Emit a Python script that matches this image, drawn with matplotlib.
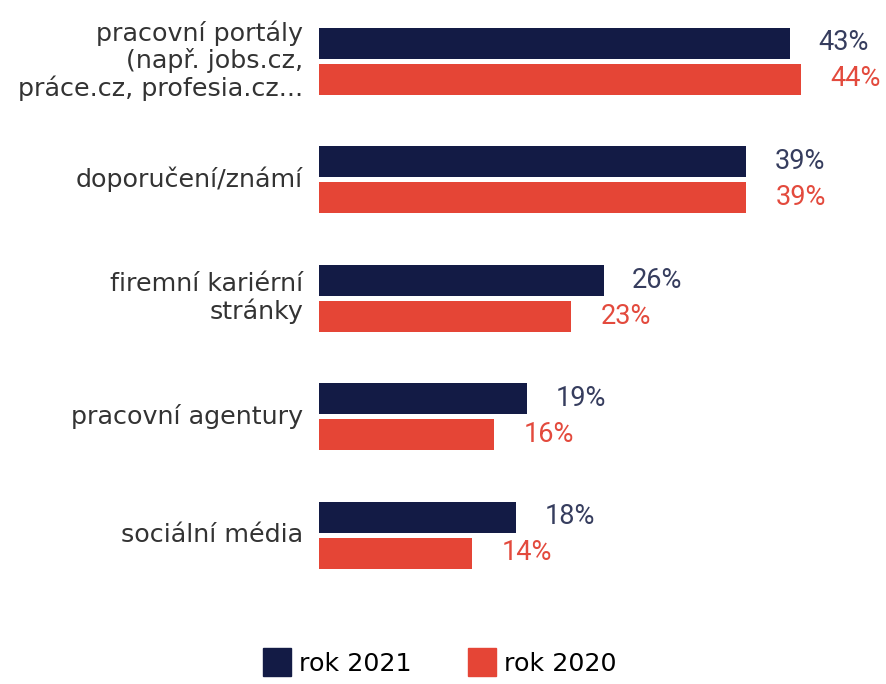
import matplotlib.pyplot as plt
from matplotlib.patches import Patch

categories = ["pracovní portály\n(např. jobs.cz,\npráce.cz, profesia.cz...",
              "doporučení/známí",
              "firemní kariérní\nstránky",
              "pracovní agentury",
              "sociální média"]
rok_2021 = [43, 39, 26, 19, 18]
rok_2020 = [44, 39, 23, 16, 14]
series_labels = ["rok 2021", "rok 2020"]

navy = "#131b45"
red = "#e54536"
navy_text = "#363d5e"
red_text = "#e34a3d"

W, H = 887, 684
fig = plt.figure(figsize=(W / 100, H / 100), dpi=100)
# axes in pixel-ish units vertically, percent horizontally
ax = fig.add_axes([319 / W, 0, (W - 319) / W, 1])
ax.set_xlim(0, (W - 319) / 10.95)
ax.set_ylim(H, 0)
ax.axis("off")

first, step, off, bh = 61, 118.5, 18, 31
centers = [first + i * step for i in range(len(categories))]

cat_font = dict(family="DejaVu Sans", fontsize=18.3, color="#333333")
val_font = dict(family="Roboto", fontsize=19.5)

for i, c in enumerate(centers):
    ax.barh(c - off, rok_2021[i], height=bh, color=navy)
    ax.barh(c + off, rok_2020[i], height=bh, color=red)
    ax.text(rok_2021[i] + 2.6, c - off, f"{rok_2021[i]}%", va="center", ha="left",
            color=navy_text, **val_font)
    ax.text(rok_2020[i] + 2.7, c + off, f"{rok_2020[i]}%", va="center", ha="left",
            color=red_text, **val_font)
    ax.text(-1.45, c, categories[i], ha="right", va="center", linespacing=1.1,
            clip_on=False, **cat_font)

handles = [Patch(color=navy), Patch(color=red)]
fig.legend(handles, series_labels, loc="lower center", bbox_to_anchor=(0.496, -0.022),
           ncol=2, frameon=False, handlelength=1.1, handleheight=1.3,
           columnspacing=2.2, handletextpad=0.32,
           prop=dict(family="DejaVu Sans", size=18.3))

fig.savefig("out.png", dpi=100)
